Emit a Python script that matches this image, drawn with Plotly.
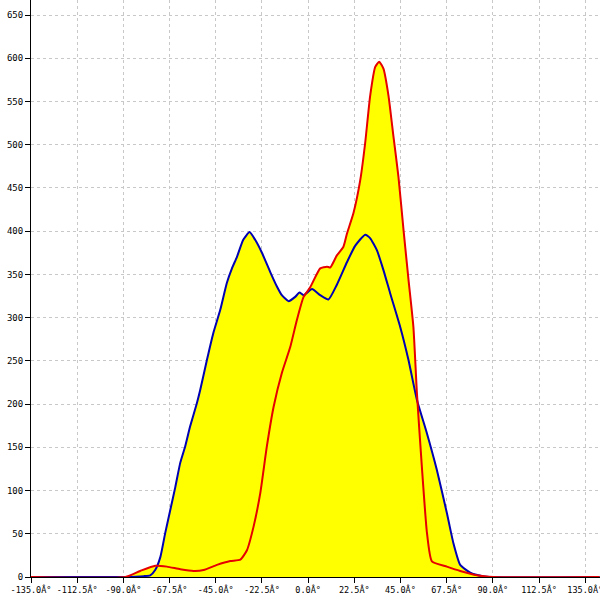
import plotly.graph_objects as go

# Series 1 (blue)
blue_x = [-135, -90, -80, -76.9, -74.5, -72, -69.6, -67.2, -64.7, -62.3, -59.9, -57.5,
          -54.2, -52.6, -49.3, -46.2, -42.8, -39.6, -37.1, -34.7, -31.6, -28.5, -25.8,
          -22.5, -18.5, -15.2, -12.8, -9.5, -6.3, -4.2, -2.2, 1.9, 5.9, 9.9, 14, 18.9,
          22.9, 27.8, 30.2, 33.5, 36.7, 40, 44.9, 48.9, 53, 57.9, 62.7, 67.6, 70.8,
          74.1, 79, 85, 90, 142]
blue_y = [0, 0, 1, 2, 8, 23, 51, 77, 104, 132, 151, 174,
          201, 216, 251, 282, 309, 340, 357, 370, 390, 399, 390,
          375, 353, 336, 326, 319, 324, 329, 326, 333, 326, 321, 338, 364,
          383, 396, 392, 378, 355, 328, 289, 251, 205, 166, 124, 74, 39,
          14, 5, 1, 0, 0]

# Series 2 (red)
red_x = [-135, -89, -81.8, -74.5, -68.8, -62.3, -55.8, -50.9, -44.4, -37.9, -33, -29.8,
         -26.6, -23.3, -20.1, -16.8, -12.8, -8.7, -5.5, -2.2, 1.0, 5.9, 9.2, 10.8, 14,
         17.2, 18.9, 22.1, 25.4, 27.8, 30.2, 32.7, 34.6, 36.7, 39.2, 41.6, 44, 46.5,
         48.9, 51.3, 53, 55.4, 57.9, 60.3, 67.6, 74.1, 82.2, 90.3, 142]
red_y = [0, 0, 7, 13, 12, 9, 7, 8, 14, 18.5, 20, 31,
         58, 97, 151, 197, 236, 266, 297, 324, 335, 357, 359, 358, 372,
         382, 397, 421, 459, 502, 556, 590, 596, 588, 556, 509, 463, 401,
         344, 289, 213, 128, 51, 18, 12, 7, 2, 0, 0]

tick_vals = [-135, -112.5, -90, -67.5, -45, -22.5, 0, 22.5, 45, 67.5, 90, 112.5, 135]
tick_text = ["-135.0Â°", "-112.5Â°", "-90.0Â°", "-67.5Â°", "-45.0Â°", "-22.5Â°", "0.0Â°",
             "22.5Â°", "45.0Â°", "67.5Â°", "90.0Â°", "112.5Â°", "135.0Â°"]
y_ticks = [0, 50, 100, 150, 200, 250, 300, 350, 400, 450, 500, 550, 600, 650]

fig = go.Figure()
fig.add_trace(go.Scatter(x=blue_x, y=blue_y, fill="tozeroy", fillcolor="#ffff00",
                         mode="lines", line=dict(width=0, shape="spline", smoothing=0.5),
                         hoverinfo="skip"))
fig.add_trace(go.Scatter(x=red_x, y=red_y, fill="tozeroy", fillcolor="#ffff00",
                         mode="lines", line=dict(width=0, shape="spline", smoothing=0.5),
                         hoverinfo="skip"))
fig.add_trace(go.Scatter(x=blue_x, y=blue_y, mode="lines",
                         line=dict(color="#0000b4", width=2, shape="spline", smoothing=0.5)))
fig.add_trace(go.Scatter(x=red_x, y=red_y, mode="lines",
                         line=dict(color="#e60000", width=2, shape="spline", smoothing=0.5)))

xfont = dict(family="DejaVu Sans Mono", size=8.5, color="black")
yfont = dict(family="DejaVu Sans Mono", size=9, color="black")
fig.update_layout(
    width=600, height=600, showlegend=False,
    margin=dict(l=31, r=0, t=0, b=23),
    plot_bgcolor="white", paper_bgcolor="white",
    xaxis=dict(range=[-135, 142.2], tickvals=tick_vals, ticktext=tick_text,
               tickangle=0, automargin=False, ticklabeloverflow="allow",
               showgrid=True, gridcolor="#c8c8c8", griddash="dot", gridwidth=1,
               zeroline=False, showline=True, linecolor="black", linewidth=1,
               ticks="outside", ticklen=5, tickcolor="black", tickfont=xfont),
    yaxis=dict(range=[0, 667.4], tickvals=y_ticks, automargin=False,
               ticklabeloverflow="allow",
               showgrid=True, gridcolor="#c8c8c8", griddash="dot", gridwidth=1,
               zeroline=False, showline=True, linecolor="black", linewidth=1,
               ticks="outside", ticklen=5, tickcolor="black", tickfont=yfont),
)
fig.write_html("out.html", config={"displayModeBar": False},
               post_script="document.body.style.margin='0';")
